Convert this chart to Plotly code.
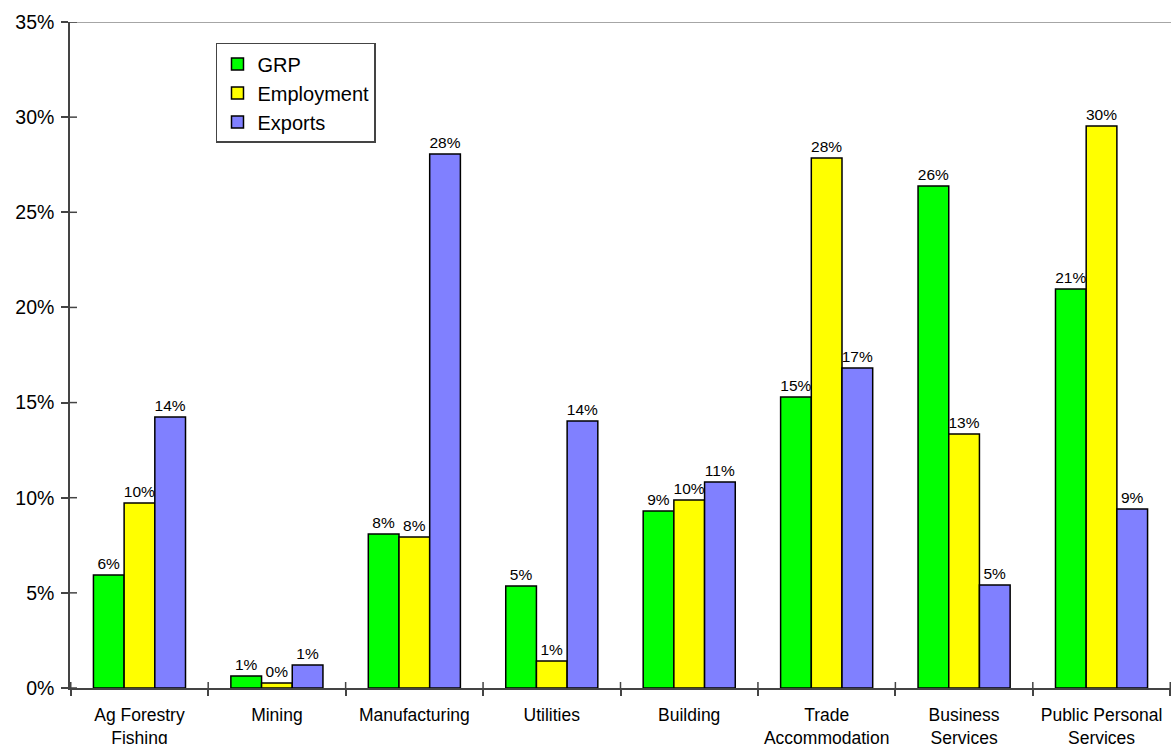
import plotly.graph_objects as go

categories = ["Ag Forestry<br>Fishing", "Mining", "Manufacturing", "Utilities", "Building",
              "Trade<br>Accommodation", "Business<br>Services", "Public Personal<br>Services"]
grp = [5.94, 0.63, 8.09, 5.36, 9.30, 15.29, 26.38, 20.97]
employment = [9.72, 0.26, 7.93, 1.42, 9.88, 27.85, 13.35, 29.53]
exports = [14.24, 1.21, 28.06, 14.03, 10.82, 16.82, 5.41, 9.41]
y_ticks = [0, 5, 10, 15, 20, 25, 30, 35]
y_tick_labels = ["0%", "5%", "10%", "15%", "20%", "25%", "30%", "35%"]

series = [("GRP", grp, "#00FF00"), ("Employment", employment, "#FFFF00"), ("Exports", exports, "#8080FF")]

FONT = "Liberation Sans, Arial, sans-serif"
fig = go.Figure()
for name, vals, col in series:
    fig.add_trace(go.Bar(
        name=name, x=categories, y=vals,
        marker=dict(color=col, line=dict(color="black", width=1.5)),
        texttemplate="%{y:.0f}%", textposition="outside", constraintext="none",
        textfont=dict(size=15.5, color="black", family=FONT),
        cliponaxis=False,
    ))

shapes = []
# top border line at 35%
shapes.append(dict(type="line", xref="paper", yref="y", x0=0, x1=1, y0=35, y1=35,
                   line=dict(color="#888888", width=1.5)))
# inside part of y ticks
for v in y_ticks:
    shapes.append(dict(type="line", xref="paper", yref="y", xsizemode="pixel", xanchor=0,
                       x0=0, x1=7, y0=v, y1=v, line=dict(color="#444444", width=1.5)))
# inside part of x category boundary ticks
for i in range(len(categories) + 1):
    shapes.append(dict(type="line", xref="x", yref="y", ysizemode="pixel", yanchor=0,
                       x0=i - 0.5, x1=i - 0.5, y0=0, y1=6, line=dict(color="#444444", width=1.5)))

fig.update_layout(
    width=1171, height=744,
    margin=dict(l=70, r=0, t=22, b=56),
    paper_bgcolor="white", plot_bgcolor="white",
    barmode="group", bargap=0.33, bargroupgap=0,
    font=dict(family=FONT, color="black"),
    showlegend=True,
    legend=dict(x=0.1326, y=0.9685, xanchor="left", yanchor="top",
                bgcolor="white", bordercolor="#444444", borderwidth=1.5,
                font=dict(size=20, family=FONT, color="black"),
                tracegroupgap=0, itemwidth=30),
    shapes=shapes,
)
fig.update_xaxes(showline=True, linecolor="#444444", linewidth=1.5, showgrid=False,
                 ticks="outside", ticklen=6, tickwidth=1.5, tickcolor="#444444",
                 tickson="boundaries", tickangle=0, ticklabelstandoff=10,
                 tickfont=dict(size=17.5, family=FONT, color="black"),
                 automargin=False)
fig.update_yaxes(range=[0, 35], tickmode="array", tickvals=y_ticks, ticktext=y_tick_labels,
                 showline=True, linecolor="#444444", linewidth=1.5, showgrid=False, zeroline=False,
                 ticks="outside", ticklen=7, tickwidth=1.5, tickcolor="#444444",
                 ticklabelstandoff=3,
                 tickfont=dict(size=19.5, family=FONT, color="black"), automargin=False)

fig.write_html("out.html")
